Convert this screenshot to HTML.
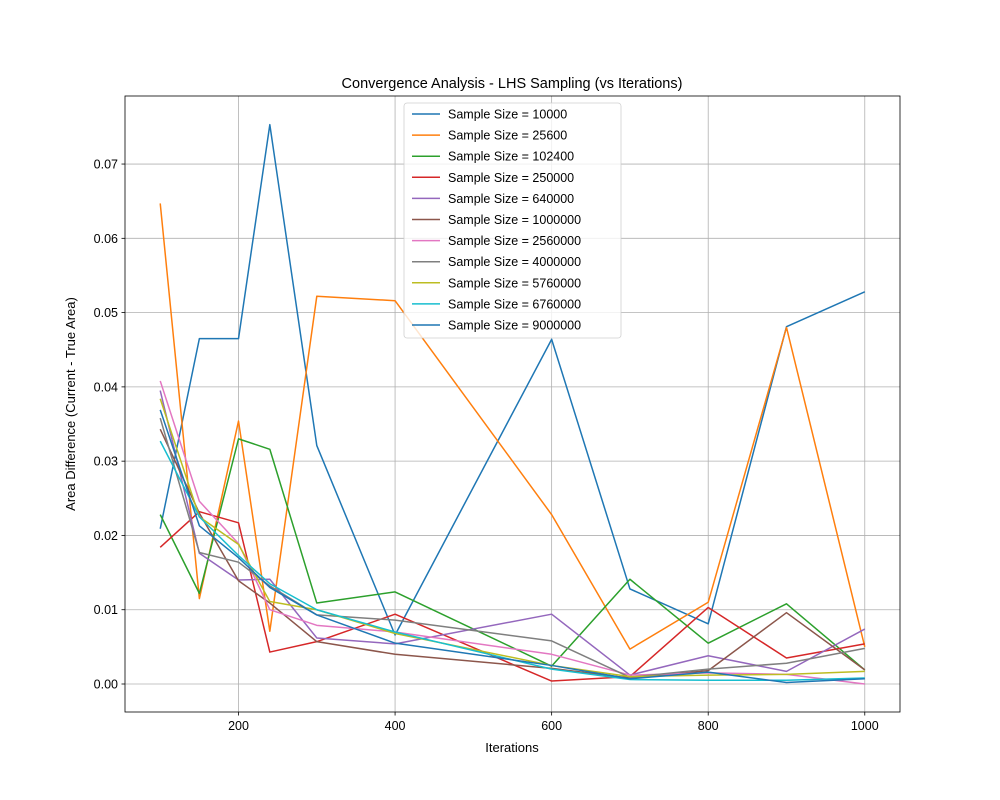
<!DOCTYPE html>
<html><head><meta charset="utf-8"><style>
body{margin:0;background:#fff}
svg{display:block;font-family:"Liberation Sans","DejaVu Sans",sans-serif}
</style></head><body>
<svg id="chart" width="1000" height="800">
<rect width="1000" height="800" fill="#fff"/>
<text x="512" y="88" font-size="14.5" text-anchor="middle">Convergence Analysis - LHS Sampling (vs Iterations)</text>
<g id="grid"></g><g id="axes"></g><g id="lines"></g><g id="legend"></g>
<text x="512" y="752" font-size="13" text-anchor="middle">Iterations</text>
<text transform="translate(75,404) rotate(-90)" font-size="13" text-anchor="middle">Area Difference (Current - True Area)</text>
</svg>
<script>
const iterations=[100,150,200,240,300,400,600,700,800,900,1000];
const seriesLabels=["10000","25600","102400","250000","640000","1000000","2560000","4000000","5760000","6760000","9000000"];
const s1=[0.0209,0.0465,0.0465,0.0753,0.0321,0.0066,0.0464,0.0128,0.0081,0.0481,0.0528];
const s2=[0.0647,0.0115,0.0354,0.0071,0.0522,0.0516,0.0228,0.0047,0.0110,0.0480,0.0050];
const s3=[0.0228,0.0122,0.0330,0.0316,0.0109,0.0124,0.0024,0.0141,0.0055,0.0108,0.0019];
const s4=[0.0184,0.0232,0.0217,0.0043,0.0057,0.0094,0.0004,0.0010,0.0103,0.0035,0.0054];
const s5=[0.0395,0.0176,0.0140,0.0141,0.0062,0.0054,0.0094,0.0012,0.0038,0.0017,0.0074];
const s6=[0.0343,0.0230,0.0139,0.0109,0.0057,0.0040,0.0021,0.0008,0.0018,0.0096,0.0019];
const s7=[0.0408,0.0246,0.0189,0.0100,0.0079,0.0070,0.0040,0.0012,0.0015,0.0013,0.0000];
const s8=[0.0358,0.0177,0.0164,0.0132,0.0093,0.0086,0.0058,0.0009,0.0020,0.0028,0.0048];
const s9=[0.0384,0.0225,0.0188,0.0111,0.0100,0.0068,0.0025,0.0010,0.0012,0.0013,0.0017];
const s10=[0.0327,0.0225,0.0173,0.0135,0.0100,0.0070,0.0020,0.0006,0.0005,0.0005,0.0008];
const s11=[0.0369,0.0213,0.0170,0.0130,0.0093,0.0055,0.0025,0.0007,0.0016,0.0002,0.0007];
const xTicks=[200,400,600,800,1000];
const yTicks=[0,0.01,0.02,0.03,0.04,0.05,0.06,0.07];
const series=[s1,s2,s3,s4,s5,s6,s7,s8,s9,s10,s11];
const colors=["#1f77b4","#ff7f0e","#2ca02c","#d62728","#9467bd","#8c564b","#e377c2","#7f7f7f","#bcbd22","#17becf","#1f77b4"];
const L=125,R=900,T=96,B=712;
const X0=55,X1=1045;
function xs(v){return L+(v-X0)*(R-L)/(X1-X0);}
function ys(v){return 684-v*7428;}
const NS="http://www.w3.org/2000/svg";
function mk(tag,attrs,parent){const e=document.createElementNS(NS,tag);for(const k in attrs)e.setAttribute(k,attrs[k]);parent.appendChild(e);return e;}
const grid=document.getElementById('grid'),axes=document.getElementById('axes'),lines=document.getElementById('lines'),leg=document.getElementById('legend');
xTicks.forEach(t=>{const x=xs(t);
 const g=mk('line',{x1:x,x2:x,y1:T,y2:B,stroke:'#b0b0b0','stroke-width':0.8},grid);
 
 
 mk('line',{x1:x,x2:x,y1:B,y2:B+3.5,stroke:'#000','stroke-width':0.8},axes);
 const tx=mk('text',{x:x,y:B+18,'font-size':12.5,'text-anchor':'middle'},axes);tx.textContent=t;
 
 
});
yTicks.forEach(t=>{const y=ys(t);
 const g=mk('line',{x1:L,x2:R,y1:y,y2:y,stroke:'#b0b0b0','stroke-width':0.8},grid);
 
 
 mk('line',{x1:L-3.5,x2:L,y1:y,y2:y,stroke:'#000','stroke-width':0.8},axes);
 const tx=mk('text',{x:L-7,y:y+4.5,'font-size':12.5,'text-anchor':'end'},axes);tx.textContent=t.toFixed(2);
 
 
});
const frame=mk('rect',{x:L,y:T,width:R-L,height:B-T,fill:'none',stroke:'#000','stroke-width':0.8},axes);


series.forEach((s,i)=>{
 const p=mk('polyline',{points:s.map((v,j)=>xs(iterations[j])+','+ys(v)).join(' '),fill:'none',stroke:colors[i],'stroke-width':1.5,'stroke-linejoin':'round'},lines);
 
 
});
const box=mk('rect',{x:404,y:103,width:217,height:235,rx:3,fill:'#fff','fill-opacity':0.8,stroke:'#d0d0d0','stroke-width':0.8},leg);


seriesLabels.forEach((lab,i)=>{const y=114+i*21.1;
 const g=mk('g',{},leg);
 
 
 mk('line',{x1:412,x2:440,y1:y,y2:y,stroke:colors[i],'stroke-width':1.5},g);
 const t=mk('text',{x:448,y:y+4.5,'font-size':12.5},g);t.textContent='Sample Size = '+lab;
});
</script>
</body></html>
